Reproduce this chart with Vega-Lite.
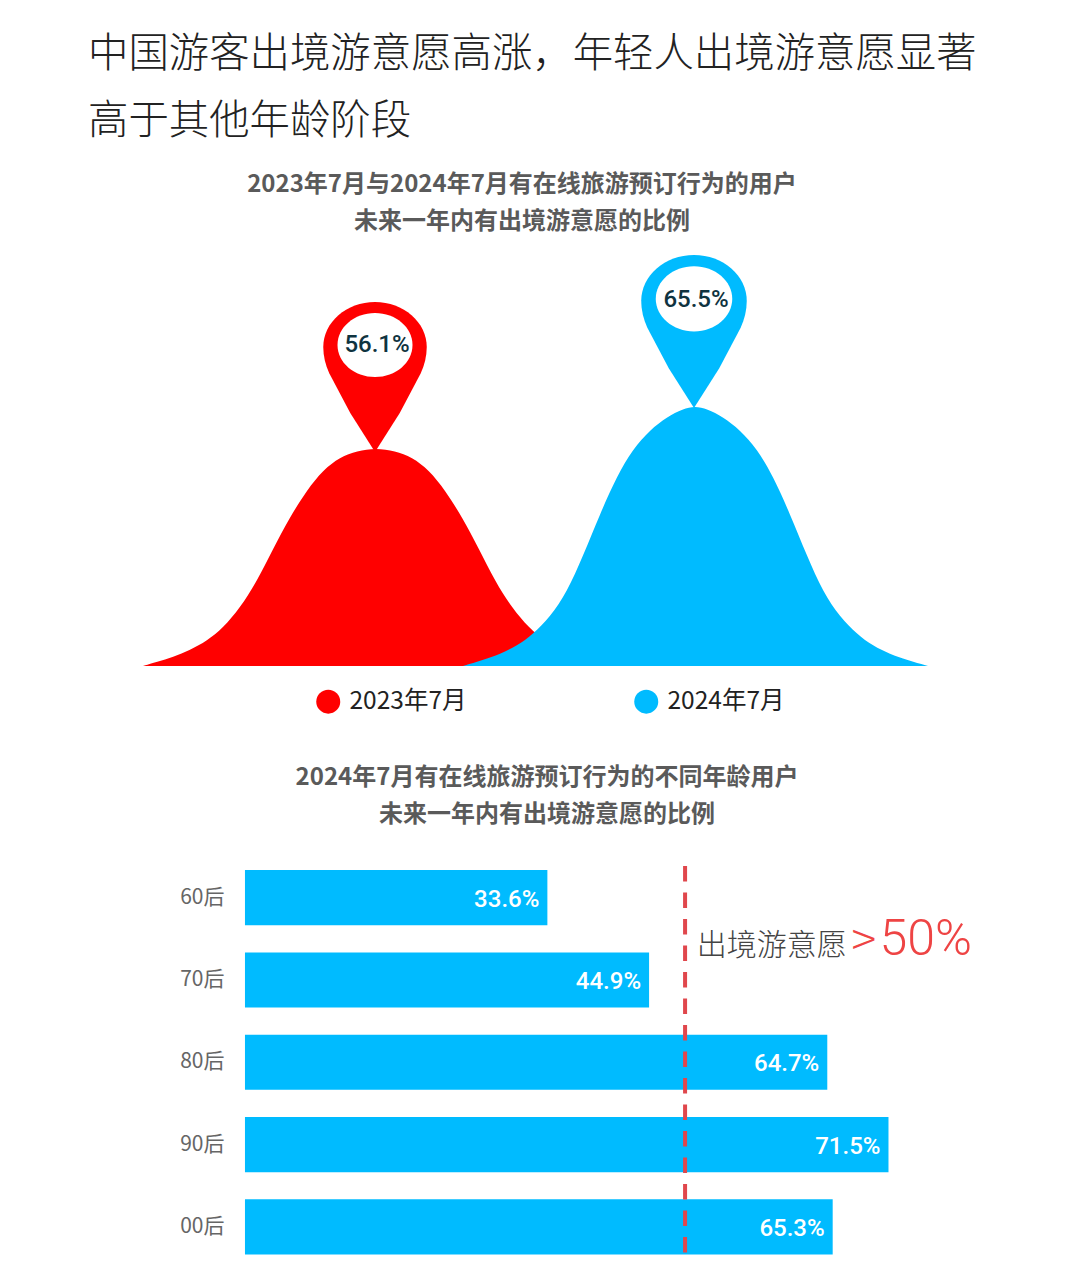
{
  "$schema": "https://vega.github.io/schema/vega-lite/v6.json",
  "background": "white",
  "padding": {"left": 88, "top": 35, "right": 0, "bottom": 0},
  "title": {
    "text": ["中国游客出境游意愿高涨，年轻人出境游意愿显著", "高于其他年龄阶段"],
    "anchor": "start",
    "frame": "group",
    "font": "Noto Sans CJK SC",
    "fontSize": 40.4,
    "fontWeight": 300,
    "lineHeight": 67,
    "color": "#222222",
    "offset": 30
  },
  "config": {
    "view": {"stroke": null},
    "font": "Noto Sans CJK SC"
  },
  "datasets": {
    "curves": [
      {"period": "2023年7月", "x": 143, "h": 0},
      {"period": "2023年7月", "x": 157, "h": 4},
      {"period": "2023年7月", "x": 173, "h": 9},
      {"period": "2023年7月", "x": 190, "h": 16},
      {"period": "2023年7月", "x": 207, "h": 25},
      {"period": "2023年7月", "x": 223, "h": 38},
      {"period": "2023年7月", "x": 240, "h": 58},
      {"period": "2023年7月", "x": 257, "h": 85},
      {"period": "2023年7月", "x": 273, "h": 117},
      {"period": "2023年7月", "x": 290, "h": 149},
      {"period": "2023年7月", "x": 307, "h": 176},
      {"period": "2023年7月", "x": 323, "h": 196},
      {"period": "2023年7月", "x": 340, "h": 209},
      {"period": "2023年7月", "x": 357, "h": 215},
      {"period": "2023年7月", "x": 376, "h": 218},
      {"period": "2023年7月", "x": 395, "h": 215},
      {"period": "2023年7月", "x": 412, "h": 209},
      {"period": "2023年7月", "x": 429, "h": 196},
      {"period": "2023年7月", "x": 445, "h": 176},
      {"period": "2023年7月", "x": 462, "h": 149},
      {"period": "2023年7月", "x": 479, "h": 117},
      {"period": "2023年7月", "x": 495, "h": 85},
      {"period": "2023年7月", "x": 512, "h": 58},
      {"period": "2023年7月", "x": 529, "h": 38},
      {"period": "2023年7月", "x": 545, "h": 25},
      {"period": "2023年7月", "x": 562, "h": 16},
      {"period": "2023年7月", "x": 579, "h": 9},
      {"period": "2023年7月", "x": 595, "h": 4},
      {"period": "2023年7月", "x": 609, "h": 0},
      {"period": "2024年7月", "x": 463, "h": 0},
      {"period": "2024年7月", "x": 483, "h": 6},
      {"period": "2024年7月", "x": 500, "h": 12},
      {"period": "2024年7月", "x": 517, "h": 20},
      {"period": "2024年7月", "x": 533, "h": 32},
      {"period": "2024年7月", "x": 550, "h": 49},
      {"period": "2024年7月", "x": 567, "h": 74},
      {"period": "2024年7月", "x": 583, "h": 110},
      {"period": "2024年7月", "x": 600, "h": 152},
      {"period": "2024年7月", "x": 617, "h": 190},
      {"period": "2024年7月", "x": 633, "h": 217},
      {"period": "2024年7月", "x": 650, "h": 236},
      {"period": "2024年7月", "x": 667, "h": 249},
      {"period": "2024年7月", "x": 683, "h": 257},
      {"period": "2024年7月", "x": 695, "h": 260},
      {"period": "2024年7月", "x": 707, "h": 257},
      {"period": "2024年7月", "x": 723, "h": 249},
      {"period": "2024年7月", "x": 740, "h": 236},
      {"period": "2024年7月", "x": 757, "h": 217},
      {"period": "2024年7月", "x": 773, "h": 190},
      {"period": "2024年7月", "x": 790, "h": 152},
      {"period": "2024年7月", "x": 807, "h": 110},
      {"period": "2024年7月", "x": 823, "h": 74},
      {"period": "2024年7月", "x": 840, "h": 49},
      {"period": "2024年7月", "x": 857, "h": 32},
      {"period": "2024年7月", "x": 873, "h": 20},
      {"period": "2024年7月", "x": 890, "h": 12},
      {"period": "2024年7月", "x": 907, "h": 6},
      {"period": "2024年7月", "x": 928, "h": 0}
    ],
    "pins": [
      {"period": "2023年7月", "pin": "a", "x": 375, "h": 289, "label": "56.1%"},
      {"period": "2024年7月", "pin": "b", "x": 694, "h": 334.5, "label": "65.5%"}
    ],
    "ages": [
      {"age": "60后", "value": 33.6, "label": "33.6%"},
      {"age": "70后", "value": 44.9, "label": "44.9%"},
      {"age": "80后", "value": 64.7, "label": "64.7%"},
      {"age": "90后", "value": 71.5, "label": "71.5%"},
      {"age": "00后", "value": 65.3, "label": "65.3%"}
    ]
  },
  "vconcat": [
    {
      "width": 912,
      "height": 416,
      "title": {
        "text": ["2023年7月与2024年7月有在线旅游预订行为的用户", "未来一年内有出境游意愿的比例"],
        "anchor": "middle",
        "dx": -22,
        "font": "Noto Sans CJK SC",
        "fontSize": 24,
        "fontWeight": "bold",
        "lineHeight": 37.5,
        "color": "#5a5a5a",
        "offset": 16
      },
      "encoding": {
        "x": {"field": "x", "type": "quantitative", "scale": {"domain": [88, 1000], "zero": false, "nice": false}, "axis": null},
        "y": {"field": "h", "type": "quantitative", "stack": null, "scale": {"domain": [0, 416], "zero": false, "nice": false}, "axis": null}
      },
      "layer": [
        {
          "data": {"name": "curves"},
          "mark": {"type": "area", "interpolate": "basis"},
          "encoding": {
            "color": {
              "field": "period",
              "type": "nominal",
              "scale": {"domain": ["2023年7月", "2024年7月"], "range": ["#ff0000", "#00bbff"]},
              "legend": {
                "orient": "none",
                "legendX": 228,
                "legendY": 439,
                "direction": "horizontal",
                "columns": 2,
                "columnPadding": 167,
                "title": null,
                "symbolType": "circle",
                "symbolSize": 576,
                "symbolStrokeWidth": 0,
                "labelFontSize": 24.5,
                "labelFont": "Noto Sans CJK SC",
                "labelColor": "#222222",
                "labelOffset": 9
              }
            }
          }
        },
        {
          "data": {"name": "pins"},
          "mark": {
            "type": "point",
            "filled": true,
            "opacity": 1,
            "shape": "M 0 1 L -0.33 0.48 L -0.61 -0.05 C -0.66 -0.16 -0.69 -0.28 -0.69 -0.4 C -0.69 -0.73 -0.38 -1 0 -1 C 0.38 -1 0.69 -0.73 0.69 -0.4 C 0.69 -0.28 0.66 -0.16 0.61 -0.05 L 0.33 0.48 Z"
          },
          "encoding": {
            "color": {"field": "period", "type": "nominal"},
            "size": {"field": "pin", "type": "ordinal", "scale": {"domain": ["a", "b"], "range": [22500, 23400]}, "legend": null}
          }
        },
        {
          "data": {"name": "pins"},
          "mark": {
            "type": "point",
            "filled": true,
            "opacity": 1,
            "color": "white",
            "shape": "M -0.5 -0.427 A 0.5 0.427 0 1 0 0.5 -0.427 A 0.5 0.427 0 1 0 -0.5 -0.427 Z"
          },
          "encoding": {
            "size": {"field": "pin", "type": "ordinal", "legend": null}
          }
        },
        {
          "data": {"name": "pins"},
          "mark": {
            "type": "text",
            "font": "Roboto",
            "fontSize": 24,
            "fontWeight": 500,
            "color": "#0f3340",
            "dy": -32,
            "dx": 2
          },
          "encoding": {
            "text": {"field": "label"}
          }
        }
      ]
    },
    {
      "width": 912,
      "height": 392.6,
      "title": {
        "text": ["2024年7月有在线旅游预订行为的不同年龄用户", "未来一年内有出境游意愿的比例"],
        "anchor": "middle",
        "dx": 3,
        "font": "Noto Sans CJK SC",
        "fontSize": 24,
        "fontWeight": "bold",
        "lineHeight": 37.5,
        "color": "#5a5a5a",
        "offset": 37
      },
      "data": {"name": "ages"},
      "encoding": {
        "x": {"field": "value", "type": "quantitative", "scale": {"domain": [-17.44, 83.89], "zero": false, "nice": false}, "axis": null},
        "y": {
          "field": "age",
          "type": "nominal",
          "sort": ["60后", "70后", "80后", "90后", "00后"],
          "scale": {"paddingInner": 0.33, "paddingOuter": 0.05},
          "axis": {
            "title": null,
            "offset": -136,
            "domain": false,
            "ticks": false,
            "labelPadding": 0,
            "labelFontSize": 21,
            "labelFont": "Noto Sans CJK SC",
            "labelColor": "#666666"
          }
        }
      },
      "layer": [
        {
          "mark": {"type": "bar", "color": "#00bbff"}
        },
        {
          "mark": {
            "type": "text",
            "font": "Roboto",
            "fontSize": 24,
            "fontWeight": 500,
            "color": "white",
            "align": "right",
            "dx": -8,
            "dy": 2
          },
          "encoding": {
            "text": {"field": "label"}
          }
        },
        {
          "data": {"values": [{"value": 48.9}]},
          "mark": {"type": "rule", "color": "#e0474c", "strokeWidth": 4, "strokeDash": [15.5, 11]},
          "encoding": {
            "y": null
          }
        },
        {
          "data": {"values": [{"age": "60后", "value": 50.2, "label": "出境游意愿"}]},
          "mark": {"type": "text", "align": "left", "font": "Noto Sans CJK SC", "fontSize": 30, "fontWeight": 300, "color": "#444444", "dy": 48},
          "encoding": {
            "text": {"field": "label"}
          }
        },
        {
          "data": {"values": [{"age": "60后", "value": 67.4, "label": ">"}]},
          "mark": {"type": "text", "align": "left", "font": "Noto Sans CJK SC", "fontSize": 46, "fontWeight": 300, "color": "#ee4444", "dy": 44},
          "encoding": {
            "text": {"field": "label"}
          }
        },
        {
          "data": {"values": [{"age": "60后", "value": 70.5, "label": "50%"}]},
          "mark": {"type": "text", "align": "left", "font": "Roboto", "fontSize": 50, "fontWeight": 300, "color": "#ee4444", "dy": 42},
          "encoding": {
            "text": {"field": "label"}
          }
        }
      ]
    }
  ],
  "spacing": 99
}
